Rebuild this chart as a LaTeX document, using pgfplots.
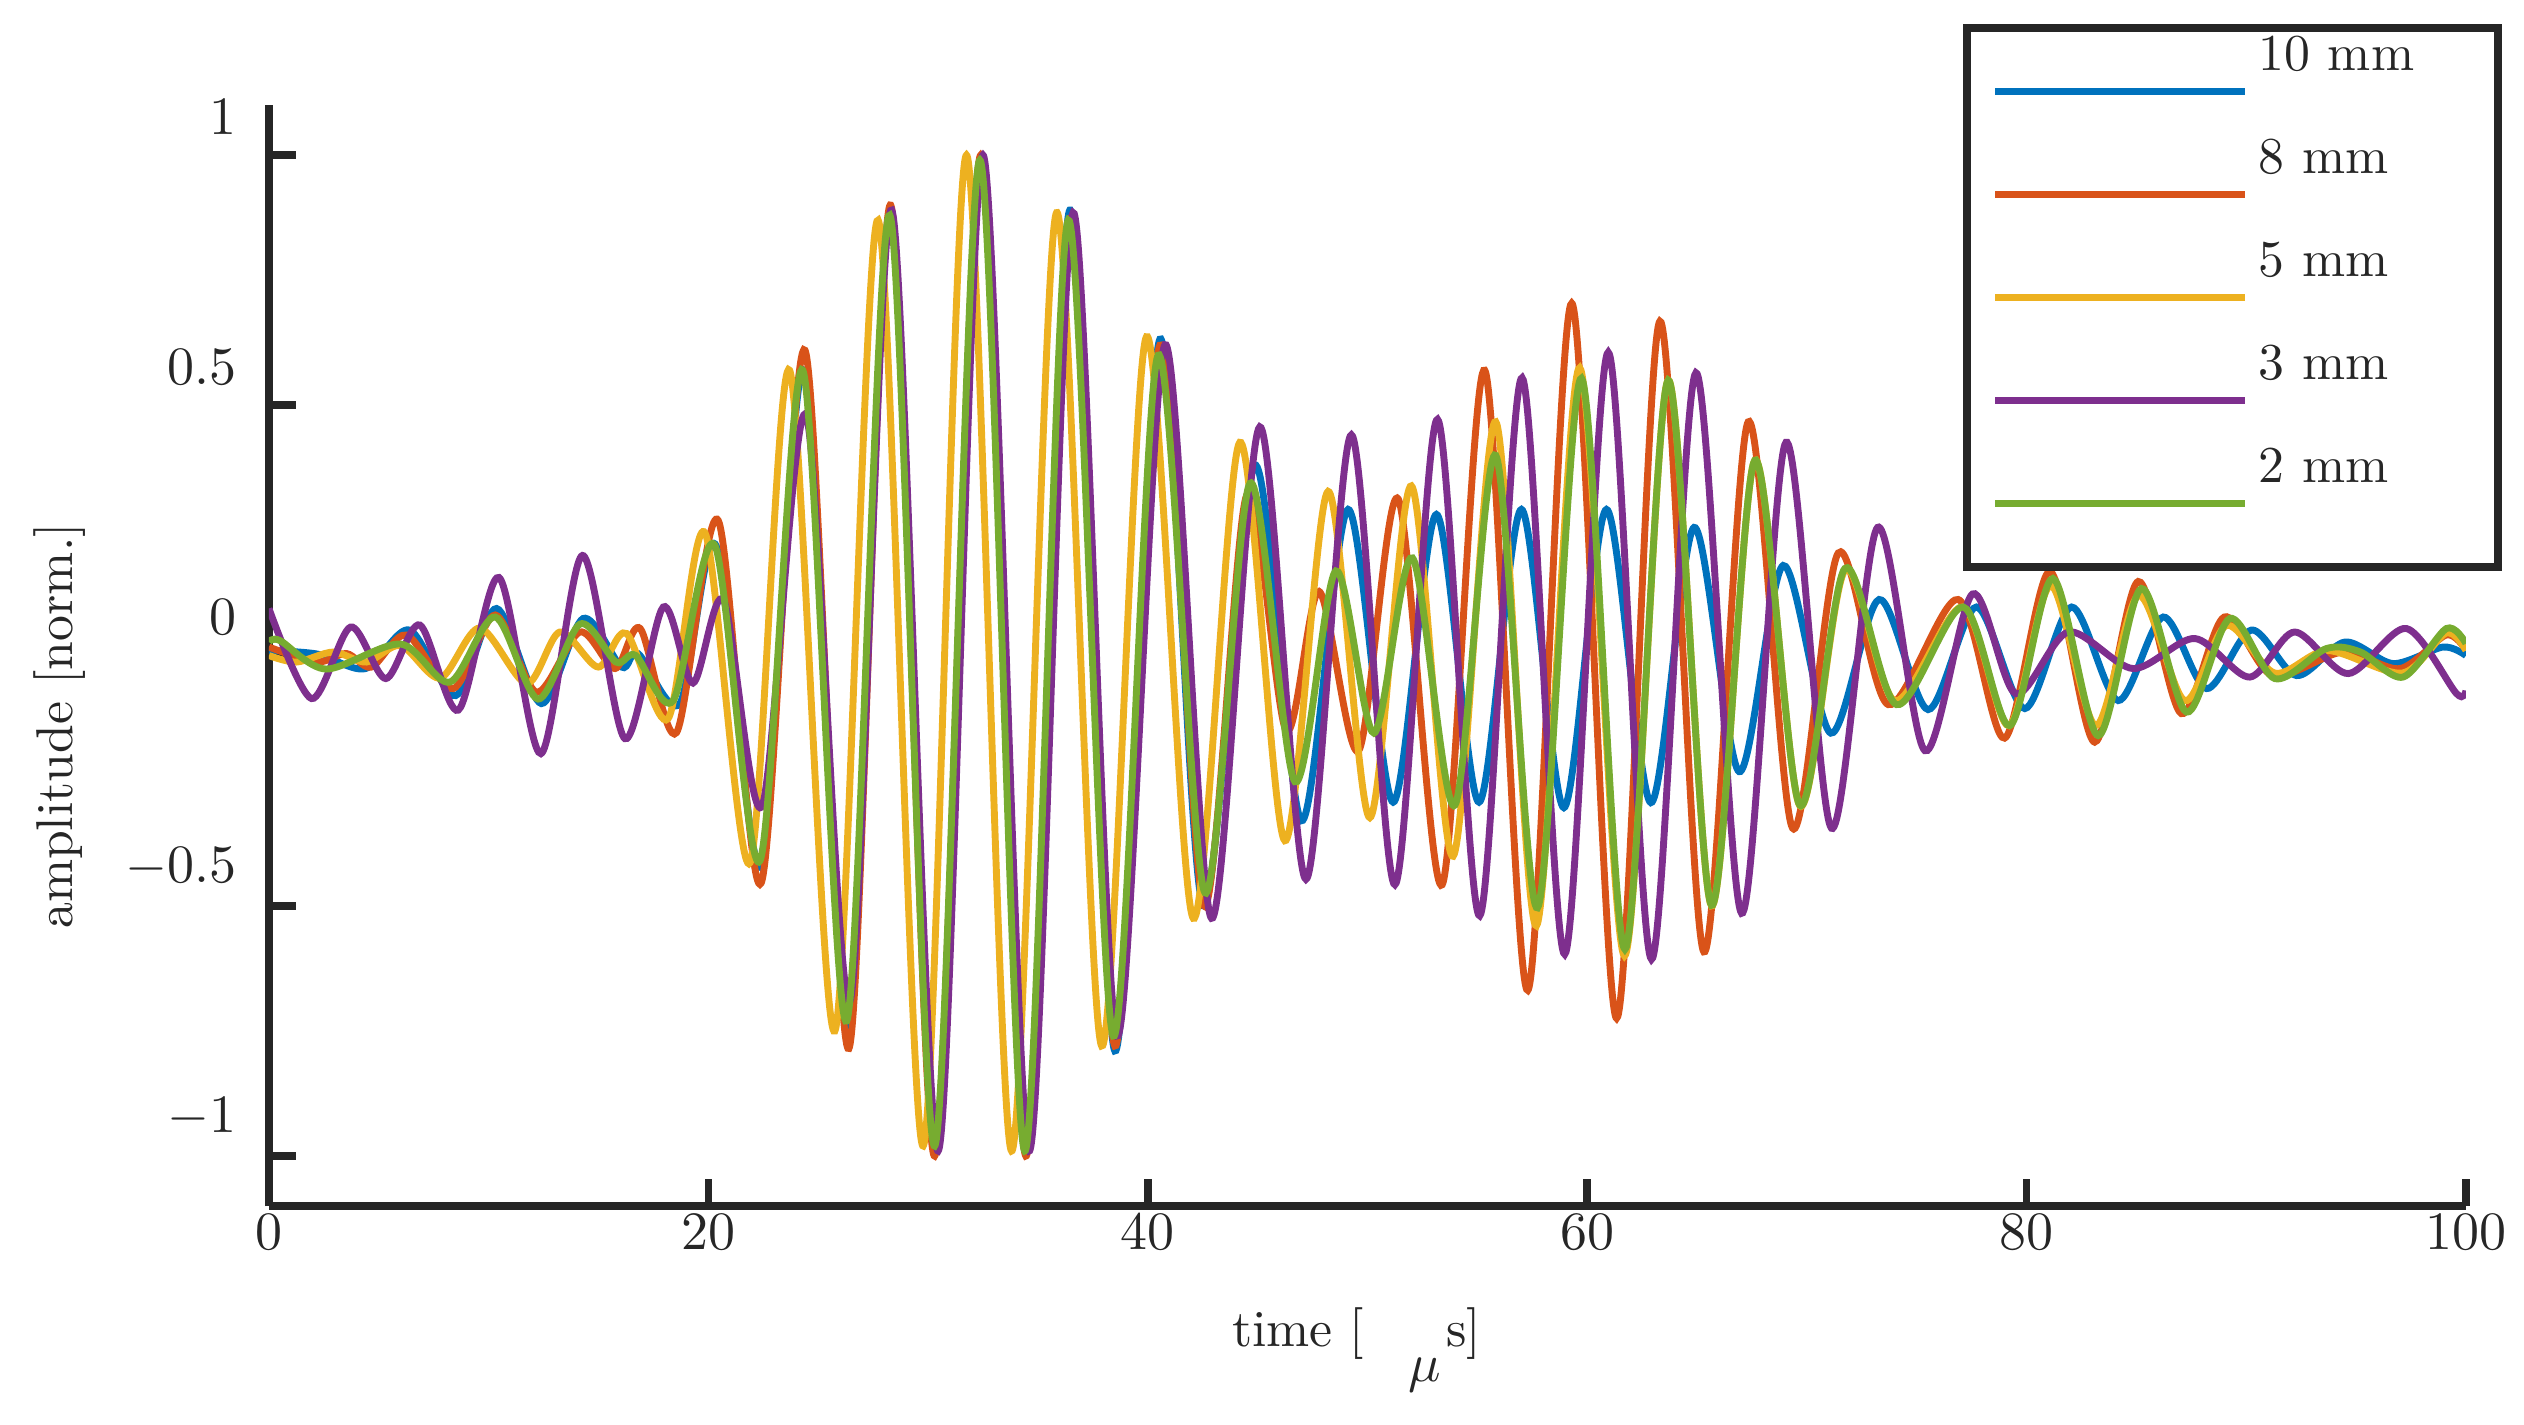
\documentclass[border=0pt]{standalone}
\usepackage{pgfplots}
\pgfplotsset{compat=1.18}
\definecolor{c1}{rgb}{0,0.447,0.741}
\definecolor{c2}{rgb}{0.85,0.325,0.098}
\definecolor{c3}{rgb}{0.929,0.694,0.125}
\definecolor{c4}{rgb}{0.494,0.184,0.556}
\definecolor{c5}{rgb}{0.466,0.674,0.188}
\definecolor{axgray}{rgb}{0.15,0.15,0.15}
\newcommand{\lt}[1]{\raisebox{0pt}[0pt][0pt]{#1}}
\begin{document}
\begin{tikzpicture}
\useasboundingbox (-1.918cm,-1.555cm) rectangle (16.082cm,8.601cm);
\begin{axis}[
  at={(0cm,0cm)}, anchor=south west,
  scale only axis, width=15.668cm, height=7.852cm,
  xmin=0, xmax=100, ymin=-1.1, ymax=1.1,
  axis x line*=bottom, axis y line*=left,
  axis line style={line width=1.55pt, color=axgray},
  every tick/.style={line width=1.55pt, color=axgray},
  major tick length=0.19cm,
  tick align=inside,
  xtick={0,20,40,60,80,100},
  ytick={-1,-0.5,0,0.5,1},
  font=\fontsize{10.5}{12.6}\selectfont,
  tick label style={color=axgray},
  yticklabel style={xshift=-3pt, yshift=7.8pt},
  xticklabel style={yshift=1.8pt},
  xlabel={time [\hspace{9pt}\raisebox{-7pt}{$\mu$}\hspace{1pt}s]},
  ylabel={amplitude [norm.]},
  xlabel style={at={(axis description cs:0.495,-0.128)}, anchor=base, color=axgray},
  ylabel style={at={(axis description cs:-0.0951,0.436)}, anchor=center, rotate=0, color=axgray},
  every axis plot/.append style={line width=1.4pt, smooth},
  legend cell align=left,
  legend style={
    at={(axis description cs:0.7729,1.0699)}, anchor=north west,
    draw=axgray, line width=1.6pt, fill=white,
    inner xsep=0.178cm, inner ysep=0.085cm, outer sep=0pt,
    /tikz/row sep=0pt, /tikz/column sep=0.072cm,
    nodes={inner sep=0pt, text height=0pt, text depth=0pt, text width=1.526cm, align=left, text=axgray, font=\fontsize{10.5}{12.6}\selectfont},
  },
  legend image code/.code={
    \path (0cm,-0.491cm) (0cm,0.194cm);
    \draw[#1] (0cm,-0.15cm) -- (1.783cm,-0.15cm);
  },
]
% 10 mm
\addplot[c1] coordinates {
(0,0.01) (2.2,0.003) (4.4,-0.026) (6.4,0.051) (8.5,-0.08) (10.36,0.094) (12.4,-0.096) (14.3,0.074)
(16.05,-0.023) (16.8,0.004) (18.7,-0.096) (20.35,0.22) (22.4,-0.42) (24.35,0.57) (26.35,-0.74)
(28.3,0.88) (30.35,-0.98) (32.4,0.99) (34.45,-0.99) (36.45,0.89) (38.5,-0.79) (40.55,0.632)
(42.52,-0.5) (44.87,0.38) (47.0,-0.33) (49.12,0.292) (51.17,-0.293) (53.14,0.282) (55.08,-0.293)
(57.01,0.292) (58.94,-0.304) (60.88,0.292) (62.9,-0.294) (64.87,0.256) (66.92,-0.232) (68.92,0.18)
(71.09,-0.155) (73.29,0.112) (75.52,-0.108) (77.72,0.097) (79.92,-0.106) (82.05,0.097) (84.17,-0.09)
(86.22,0.077) (88.19,-0.066) (90.24,0.051) (92.29,-0.04) (94.49,0.027) (96.69,-0.016) (98.96,0.017) (100,0.0)
};
\addlegendentry{\lt{10 mm}}
% 8 mm
\addplot[c2] coordinates {
(0,0.017) (2.17,-0.013) (3.53,0.004) (4.67,-0.023) (6.27,0.041) (8.39,-0.066) (10.3,0.081) (12.18,-0.073)
(14.15,0.047) (15.75,-0.026) (16.9,0.054) (18.55,-0.154) (20.45,0.27) (22.4,-0.455) (24.4,0.61)
(26.4,-0.785) (28.3,0.9) (30.3,-1.0) (32.4,1.0) (34.45,-1.0) (36.45,0.87) (38.5,-0.78) (40.55,0.62)
(42.55,-0.5) (44.5,0.32) (46.3,-0.15) (47.8,0.128) (49.6,-0.19) (51.4,0.313) (53.4,-0.458) (55.34,0.57)
(57.3,-0.669) (59.3,0.704) (61.34,-0.725) (63.31,0.668) (65.31,-0.592) (67.33,0.467) (69.35,-0.345)
(71.43,0.205) (73.7,-0.098) (76.89,0.112) (79.0,-0.165) (81.06,0.168) (83.1,-0.173) (85.08,0.148)
(87.05,-0.116) (89.0,0.077) (91.2,-0.04) (94.4,0.007) (97.0,-0.026) (99.1,0.041) (100,0.011)
};
\addlegendentry{\lt{8 mm}}
% 5 mm
\addplot[c3] coordinates {
(0,0.0) (1.26,-0.013) (2.93,0.007) (4.44,-0.013) (6.0,0.02) (7.8,-0.045) (9.6,0.055) (11.73,-0.056)
(13.24,0.047) (14.99,-0.023) (16.28,0.044) (18.17,-0.126) (19.85,0.245) (21.9,-0.414) (23.7,0.57)
(25.76,-0.75) (27.73,0.87) (29.78,-0.98) (31.75,1.0) (33.8,-0.99) (35.85,0.885) (37.9,-0.78)
(39.94,0.637) (42.07,-0.525) (44.19,0.426) (46.24,-0.37) (48.21,0.328) (50.11,-0.324) (52.0,0.339)
(53.9,-0.401) (55.84,0.467) (57.69,-0.54) (59.66,0.575) (61.7,-0.6) (63.69,0.55) (65.66,-0.5)
(67.63,0.39) (69.68,-0.3) (71.73,0.17) (74.0,-0.09) (77.1,0.097) (79.2,-0.14) (81.1,0.14) (83.15,-0.14)
(85.1,0.12) (87.2,-0.09) (89.1,0.06) (91.3,-0.035) (93.7,0.01) (97.1,-0.035) (99.1,0.045) (100,0.01)
};
\addlegendentry{\lt{5 mm}}
% 3 mm
\addplot[c4] coordinates {
(0,0.094) (1.94,-0.086) (3.72,0.057) (5.32,-0.046) (6.87,0.061) (8.62,-0.109) (10.47,0.156) (12.38,-0.196)
(14.27,0.2) (16.2,-0.166) (17.95,0.097) (19.3,-0.055) (20.7,0.11) (22.45,-0.3) (24.45,0.48) (26.45,-0.69)
(28.35,0.89) (30.46,-0.99) (32.5,1.0) (34.6,-0.99) (36.6,0.885) (38.6,-0.76) (40.78,0.621) (42.9,-0.525)
(45.1,0.457) (47.2,-0.447) (49.27,0.441) (51.25,-0.458) (53.19,0.472) (55.11,-0.52) (57.04,0.555)
(58.98,-0.597) (60.96,0.606) (62.93,-0.607) (64.95,0.565) (67.03,-0.515) (69.05,0.426) (71.12,-0.345)
(73.22,0.256) (75.37,-0.19) (77.54,0.123) (79.5,-0.076) (81.9,0.047) (84.85,-0.026) (87.66,0.034)
(90.16,-0.043) (92.2,0.047) (94.64,-0.036) (97.29,0.054) (99.57,-0.076) (100,-0.07)
};
\addlegendentry{\lt{3 mm}}
% 2 mm
\addplot[c5] coordinates {
(0,0.027) (0.5,0.03) (2.6,-0.027) (6.0,0.023) (8.24,-0.053) (10.3,0.077) (12.25,-0.087) (14.16,0.063)
(15.8,-0.013) (16.7,0.0) (18.4,-0.09) (20.3,0.22) (22.35,-0.41) (24.3,0.57) (26.3,-0.73) (28.26,0.88)
(30.3,-0.98) (32.36,0.99) (34.4,-0.99) (36.38,0.87) (38.43,-0.76) (40.47,0.6) (42.6,-0.474) (44.65,0.344)
(46.7,-0.252) (48.56,0.169) (50.3,-0.155) (52.05,0.195) (53.98,-0.299) (55.84,0.4) (57.74,-0.504)
(59.74,0.554) (61.72,-0.587) (63.69,0.55) (65.66,-0.499) (67.63,0.39) (69.68,-0.299) (71.73,0.174)
(74.08,-0.098) (77.12,0.097) (79.24,-0.14) (81.2,0.154) (83.26,-0.16) (85.23,0.134) (87.28,-0.113)
(89.25,0.074) (91.3,-0.046) (93.65,0.014) (95.2,0.007) (97.14,-0.043) (99.11,0.054) (100,0.024)
};
\addlegendentry{\lt{2 mm}}
\end{axis}
\end{tikzpicture}
\end{document}
